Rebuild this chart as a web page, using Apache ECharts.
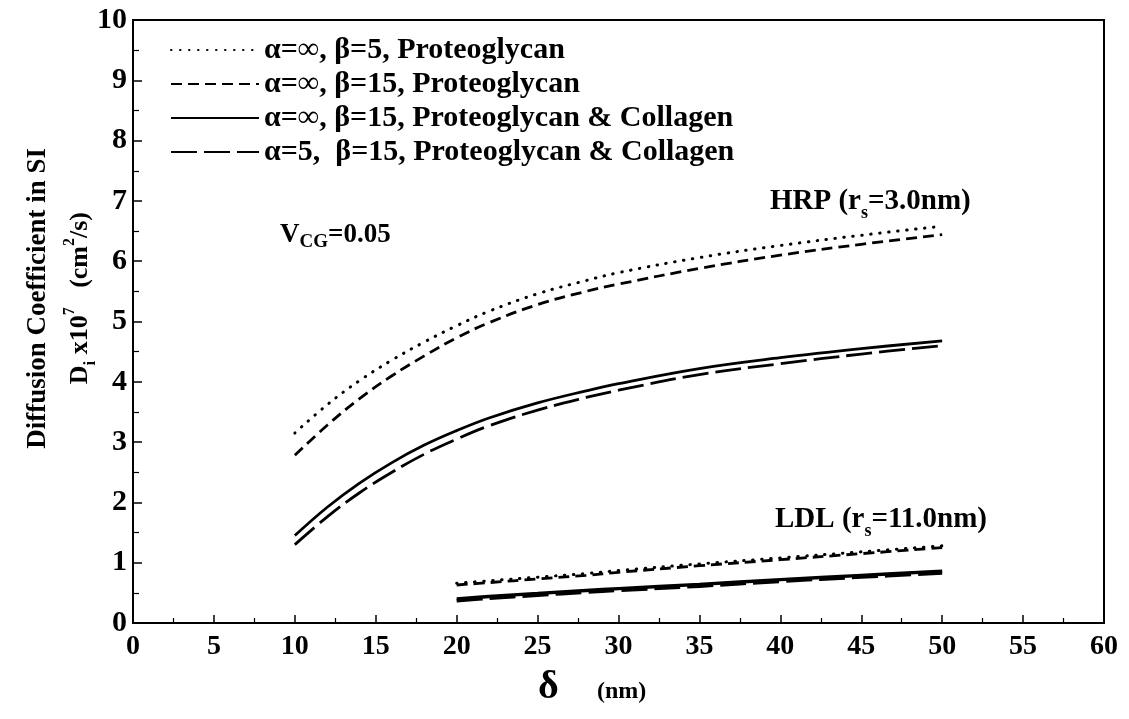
<!DOCTYPE html>
<html>
<head>
<meta charset="utf-8">
<script src="https://cdn.jsdelivr.net/npm/echarts@6/dist/echarts.min.js"></script>
<style>
  html, body { margin: 0; padding: 0; background: #fff; }
  #chart { width: 1129px; height: 719px; }
</style>
</head>
<body>
<div id="chart"></div>
<script>
// Pore half-spacing δ (nm) sampled for each solute
const xHRP = [10, 12, 14, 16, 18, 20, 22, 25, 28, 30, 35, 40, 45, 50];
const xLDL = [20, 22, 25, 28, 30, 35, 40, 45, 50];

// HRP (rs = 3.0 nm), Di x 10^7 (cm²/s)
const hrpPgBeta5 = [3.15, 3.62, 4.02, 4.36, 4.66, 4.93, 5.17, 5.46, 5.68, 5.81, 6.06, 6.26, 6.43, 6.58];
const hrpPgBeta15 = [2.78, 3.28, 3.72, 4.10, 4.43, 4.73, 4.98, 5.28, 5.50, 5.62, 5.88, 6.10, 6.28, 6.44];
const hrpPgColInf = [1.45, 1.92, 2.32, 2.66, 2.95, 3.19, 3.40, 3.65, 3.85, 3.97, 4.22, 4.40, 4.55, 4.68];
const hrpPgColA5 = [1.30, 1.76, 2.16, 2.50, 2.80, 3.05, 3.27, 3.53, 3.74, 3.86, 4.12, 4.30, 4.46, 4.60];

// LDL (rs = 11.0 nm)
const ldlPgBeta5 = [0.66, 0.70, 0.76, 0.82, 0.87, 0.98, 1.08, 1.18, 1.28];
const ldlPgBeta15 = [0.63, 0.67, 0.73, 0.79, 0.84, 0.95, 1.05, 1.15, 1.25];
const ldlPgColInf = [0.40, 0.44, 0.49, 0.54, 0.57, 0.64, 0.72, 0.79, 0.86];
const ldlPgColA5 = [0.37, 0.41, 0.46, 0.51, 0.54, 0.61, 0.69, 0.76, 0.83];

const seriesNames = [
  'α=∞, β=5, Proteoglycan',
  'α=∞, β=15, Proteoglycan',
  'α=∞, β=15, Proteoglycan & Collagen',
  'α=5,  β=15, Proteoglycan & Collagen'
];

const xTicks = [0, 5, 10, 15, 20, 25, 30, 35, 40, 45, 50, 55, 60];
const yTicks = [0, 1, 2, 3, 4, 5, 6, 7, 8, 9, 10];

const SERIF = '"Liberation Serif", "DejaVu Serif", serif';

// line looks: dotted, short dash, solid, long dash
const styles = [
  { type: [0.5, 8.5], width: 3, cap: 'round' },
  { type: [11, 6], width: 2.8, cap: 'butt' },
  { type: 'solid', width: 2.8, cap: 'butt' },
  { type: [26, 7], width: 2.8, cap: 'butt' }
];

function pairs(xs, ys) { return xs.map((x, i) => [x, ys[i]]); }

function makeSeries(name, xs, ys, st, widthBoost) {
  return {
    name: name,
    type: 'line',
    data: pairs(xs, ys),
    smooth: 0.4,
    symbol: 'none',
    showSymbol: false,
    silent: true,
    itemStyle: { color: '#000' },
    lineStyle: { color: '#000', width: st.width + (widthBoost || 0), type: st.type, cap: st.cap }
  };
}

const series = [
  makeSeries(seriesNames[0], xHRP, hrpPgBeta5, styles[0]),
  makeSeries(seriesNames[1], xHRP, hrpPgBeta15, styles[1]),
  makeSeries(seriesNames[2], xHRP, hrpPgColInf, styles[2]),
  makeSeries(seriesNames[3], xHRP, hrpPgColA5, styles[3]),
  makeSeries(seriesNames[0], xLDL, ldlPgBeta5, styles[0]),
  makeSeries(seriesNames[1], xLDL, ldlPgBeta15, styles[1]),
  makeSeries(seriesNames[2], xLDL, ldlPgColInf, styles[2], 0.6),
  makeSeries(seriesNames[3], xLDL, ldlPgColA5, styles[3], 0.6)
];

const chart = echarts.init(document.getElementById('chart'), null, { renderer: 'canvas' });

const n = (size) => ({ fontFamily: SERIF, fontWeight: 'bold', fontSize: size, fill: '#000' });
const sub = (size, drop) => ({ fontFamily: SERIF, fontWeight: 'bold', fontSize: size, fill: '#000', verticalAlign: 'bottom', padding: [0, 0, -drop, 0] });
const sup = (size, lift) => ({ fontFamily: SERIF, fontWeight: 'bold', fontSize: size, fill: '#000', verticalAlign: 'top', padding: [-lift, 0, 0, 0] });

chart.setOption({
  backgroundColor: '#fff',
  animation: false,
  grid: {
    left: 133, right: 25, top: 20, bottom: 96,
    show: true, borderColor: '#000', borderWidth: 2, backgroundColor: 'transparent'
  },
  legend: {
    data: seriesNames,
    orient: 'vertical',
    left: 165, top: 30,
    itemWidth: 88, itemHeight: 20, itemGap: 4,
    selectedMode: false,
    itemStyle: { opacity: 0 },
    textStyle: { fontFamily: SERIF, fontWeight: 'bold', fontSize: 30, lineHeight: 29, color: '#000', padding: [0, 0, 0, 0] }
  },
  xAxis: {
    type: 'value',
    min: xTicks[0], max: xTicks[xTicks.length - 1], interval: 5,
    axisLine: { show: true, lineStyle: { color: '#000', width: 2 } },
    axisTick: { show: true, inside: true, length: 8, lineStyle: { color: '#000', width: 1.5 } },
    minorTick: { show: true, splitNumber: 2, length: 5, lineStyle: { color: '#000', width: 1.2 } },
    splitLine: { show: false },
    axisLabel: { fontFamily: SERIF, fontWeight: 'bold', fontSize: 28, color: '#000', margin: 10 }
  },
  yAxis: {
    type: 'value',
    min: yTicks[0], max: yTicks[yTicks.length - 1], interval: 1,
    axisLine: { show: true, lineStyle: { color: '#000', width: 2 } },
    axisTick: { show: true, inside: true, length: 9, lineStyle: { color: '#000', width: 1.5 } },
    minorTick: { show: true, splitNumber: 2, length: 6, lineStyle: { color: '#000', width: 1.2 } },
    splitLine: { show: false },
    axisLabel: { fontFamily: SERIF, fontWeight: 'bold', fontSize: 30, color: '#000', margin: 6 }
  },
  series: series,
  graphic: [
    {
      type: 'text', left: 25, top: 148, rotation: Math.PI / 2,
      style: { text: 'Diffusion Coefficient in SI', fontFamily: SERIF, fontWeight: 'bold', fontSize: 27, fill: '#000' }
    },
    {
      type: 'text', left: 62, top: 212, rotation: Math.PI / 2,
      style: {
        text: '{n|D}{s|i}{n| x10}{p|7}{n|   (cm}{p|2}{n|/s)}',
        rich: { n: n(26), s: sub(17, 6), p: sup(16, 5) }
      }
    },
    {
      type: 'text', left: 538, top: 668,
      style: { text: 'δ', fontFamily: SERIF, fontWeight: 'bold', fontSize: 40, fill: '#000' }
    },
    {
      type: 'text', left: 597, top: 680,
      style: { text: '(nm)', fontFamily: SERIF, fontWeight: 'bold', fontSize: 24, fill: '#000' }
    },
    {
      type: 'text', left: 280, top: 222,
      style: {
        text: '{n|V}{s|CG}{n|=0.05}',
        rich: { n: n(27), s: sub(19, 3) }
      }
    },
    {
      type: 'text', left: 770, top: 187,
      style: {
        text: '{n|HRP (r}{s|s}{n|=3.0nm)}',
        rich: { n: n(29), s: sub(18, 6) }
      }
    },
    {
      type: 'text', left: 775, top: 505,
      style: {
        text: '{n|LDL (r}{s|s}{n|=11.0nm)}',
        rich: { n: n(29), s: sub(18, 6) }
      }
    }
  ]
});
</script>
</body>
</html>
